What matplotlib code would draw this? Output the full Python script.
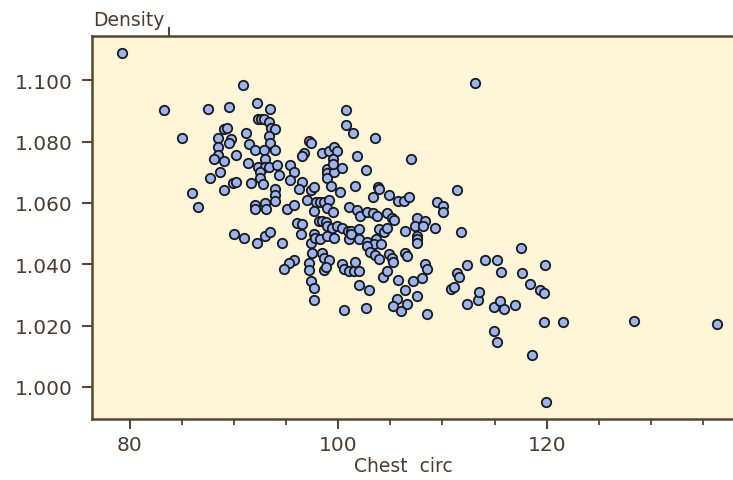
import matplotlib
matplotlib.use("Agg")
import matplotlib.pyplot as plt
from matplotlib.lines import Line2D
from matplotlib.ticker import MultipleLocator, FormatStrFormatter

# chest circumference (cm) and body density (g/cm^3)
chest = [
    79.3, 90.85, 113.15, 83.3, 87.55, 89.5, 92.2, 93.5, 100.8,
    92.3, 92.6, 92.9, 93.4, 93.6, 93.9, 89.1, 89.3, 91.2, 85.05,
    100.8, 101.4, 103.5, 88.5, 89.7, 89.5, 88.5, 93.35, 93.5, 97.2, 97.4,
    91.5, 92.0, 92.9, 93.9, 88.5, 88.1, 89.1, 90.2, 96.7, 96.55,
    98.5, 99.1, 99.6, 99.85, 101.8, 107.0,
    93.0, 91.4, 92.3, 93.0, 93.35, 94.1, 95.4, 95.75,
    99.5, 98.96, 98.96, 98.96, 99.6, 99.5, 100.4, 102.7,
    88.7, 87.7, 89.9, 90.2, 89.1, 91.6, 92.55, 92.55, 92.8, 94.3,
    95.4, 96.55, 96.2, 97.35, 97.7, 93.9, 93.9, 93.9,
    99.3, 100.2, 101.6, 103.8, 103.95, 86.0, 86.6,
    92.0, 92.0, 93.0, 93.1, 95.05, 95.8, 96.97,
    97.9, 98.3, 98.6, 99.1, 98.96, 99.5, 97.7,
    103.3, 104.9, 105.7, 106.3, 106.8, 109.5, 110.1, 110.1, 111.4,
    101.0, 101.8, 102.1, 102.8, 103.3, 103.7, 104.7, 105.2, 105.4,
    96.1, 96.55,
    98.2, 98.5, 98.8, 98.96, 99.4, 99.9, 100.4, 100.9, 101.2, 102.0,
    103.9, 104.4, 104.7, 107.6, 108.3, 107.4, 108.1, 109.3, 106.4, 111.8,
    90.0, 91.0, 92.2, 93.0, 93.5, 94.6,
    96.4, 97.35, 97.7, 97.8, 98.3, 98.96, 99.6,
    101.0, 101.2, 102.0, 102.8, 103.6, 103.4, 104.1, 102.8,
    107.55, 107.55, 107.55,
    97.5, 98.5, 98.6, 99.1,
    103.1, 103.5, 103.9, 104.9, 105.2, 105.3, 106.4, 106.65,
    95.75, 95.3, 94.8, 97.2, 97.2, 98.6, 98.8,
    100.4, 100.6, 101.0, 101.5, 102.0, 101.6, 108.3, 108.5,
    112.35, 111.4, 111.6, 104.3, 104.7, 105.7, 107.2, 108.0,
    97.35, 97.7, 102.0, 102.96, 106.4, 107.55, 110.8, 111.1, 97.7,
    105.6, 105.3, 106.0, 106.6, 100.6, 102.7, 108.5,
    112.35, 113.4, 113.5,
    117.55, 114.1, 115.2, 119.85, 115.6, 117.6,
    114.9, 115.5, 115.9, 117.0, 114.9, 115.2,
    118.35, 119.4, 119.7, 119.7, 121.6, 118.6, 119.9,
    128.4, 136.3,
]
density = [
    1.1089, 1.0985, 1.0991, 1.0902, 1.0906, 1.0914, 1.0925, 1.0906, 1.0902,
    1.0875, 1.0875, 1.0875, 1.0865, 1.0846, 1.0841, 1.0841, 1.0846, 1.0830, 1.0813,
    1.0853, 1.0830, 1.0813, 1.0813, 1.0808, 1.0795, 1.0784, 1.0818, 1.0797, 1.0803, 1.0795,
    1.0792, 1.0774, 1.0774, 1.0774, 1.0757, 1.0743, 1.0738, 1.0757, 1.0762, 1.0752,
    1.0763, 1.0770, 1.0784, 1.0769, 1.0752, 1.0742,
    1.0743, 1.0730, 1.0716, 1.0719, 1.0716, 1.0724, 1.0725, 1.0700,
    1.0743, 1.0710, 1.0697, 1.0683, 1.0702, 1.0727, 1.0714, 1.0709,
    1.0702, 1.0681, 1.0664, 1.0669, 1.0643, 1.0664, 1.0700, 1.0683, 1.0662, 1.0691,
    1.0676, 1.0667, 1.0647, 1.0643, 1.0651, 1.0647, 1.0626, 1.0607,
    1.0656, 1.0637, 1.0654, 1.0653, 1.0647, 1.0631, 1.0588,
    1.0593, 1.0580, 1.0600, 1.0580, 1.0582, 1.0593, 1.0609,
    1.0604, 1.0604, 1.0604, 1.0610, 1.0585, 1.0569, 1.0574,
    1.0620, 1.0626, 1.0607, 1.0607, 1.0621, 1.0604, 1.0591, 1.0569, 1.0642,
    1.0588, 1.0578, 1.0558, 1.0569, 1.0567, 1.0558, 1.0566, 1.0550, 1.0545,
    1.0534, 1.0531,
    1.0542, 1.0542, 1.0539, 1.0525, 1.0520, 1.0525, 1.0520, 1.0509, 1.0509, 1.0515,
    1.0515, 1.0504, 1.0520, 1.0550, 1.0542, 1.0525, 1.0525, 1.0520, 1.0509, 1.0504,
    1.0498, 1.0487, 1.0471, 1.0493, 1.0504, 1.0471,
    1.0498, 1.0471, 1.0498, 1.0487, 1.0482, 1.0493, 1.0487,
    1.0482, 1.0498, 1.0482, 1.0473, 1.0482, 1.0466, 1.0466, 1.0458,
    1.0493, 1.0482, 1.0469,
    1.0438, 1.0438, 1.0419, 1.0414,
    1.0441, 1.0430, 1.0417, 1.0433, 1.0419, 1.0406, 1.0438, 1.0428,
    1.0415, 1.0404, 1.0386, 1.0404, 1.0382, 1.0382, 1.0390,
    1.0401, 1.0386, 1.0379, 1.0379, 1.0379, 1.0409, 1.0401, 1.0386,
    1.0398, 1.0373, 1.0357, 1.0359, 1.0377, 1.0349, 1.0344, 1.0355,
    1.0346, 1.0324, 1.0332, 1.0316, 1.0317, 1.0297, 1.0319, 1.0326, 1.0284,
    1.0288, 1.0264, 1.0248, 1.0270, 1.0250, 1.0256, 1.0237,
    1.0270, 1.0284, 1.0308,
    1.0453, 1.0415, 1.0415, 1.0397, 1.0375, 1.0371,
    1.0261, 1.0281, 1.0254, 1.0267, 1.0183, 1.0145,
    1.0337, 1.0317, 1.0306, 1.0210, 1.0210, 1.0104, 0.9949,
    1.0215, 1.0205,
]

x_ticks = [80, 100, 120]
y_ticks = [1.000, 1.020, 1.040, 1.060, 1.080, 1.100]

frame = "#5c4433"
text_col = "#4b3b31"

fig = plt.figure(figsize=(7.33, 4.81), dpi=100)
ax = fig.add_axes([92 / 733, 1 - 420 / 481, 1 - 92 / 733 + 0.002, 383 / 481])
ax.set_facecolor("#fff6d7")

ax.scatter(chest, density, s=46, marker="o", facecolor="#98b4f2",
           edgecolor="#1a1a1a", linewidth=1.3, zorder=3)

ax.set_xlim(76.4, 138.0)
ax.set_ylim(0.9895, 1.1145)
ax.set_xticks(x_ticks)
ax.xaxis.set_minor_locator(MultipleLocator(5))
ax.set_yticks(y_ticks)
ax.yaxis.set_major_formatter(FormatStrFormatter("%.3f"))

for side in ["left", "bottom", "top"]:
    ax.spines[side].set_color(frame)
    ax.spines[side].set_linewidth(1.8)
ax.spines["right"].set_visible(False)

ax.tick_params(axis="both", which="major", length=7.2, width=1.5, color=frame,
               labelsize=14.5, labelcolor=text_col)
ax.tick_params(axis="y", which="major", pad=7)
ax.tick_params(axis="x", which="major", pad=4)
ax.tick_params(axis="x", which="minor", length=4, width=1.3, color=frame)

# axis names: y name sits above the frame in a small box, x name below
fig.text(93 / 733, 1 - 21 / 481, "Density", fontsize=13.5, color=text_col,
         ha="left", va="center")
fig.add_artist(Line2D([169 / 733, 169 / 733], [1 - 29 / 481, 1 - 37 / 481],
                      color=frame, linewidth=1.5))
fig.text(403 / 733, 1 - 466 / 481, "Chest  circ", fontsize=13.5, color=text_col,
         ha="center", va="center")

fig.savefig("out.png", dpi=100)
